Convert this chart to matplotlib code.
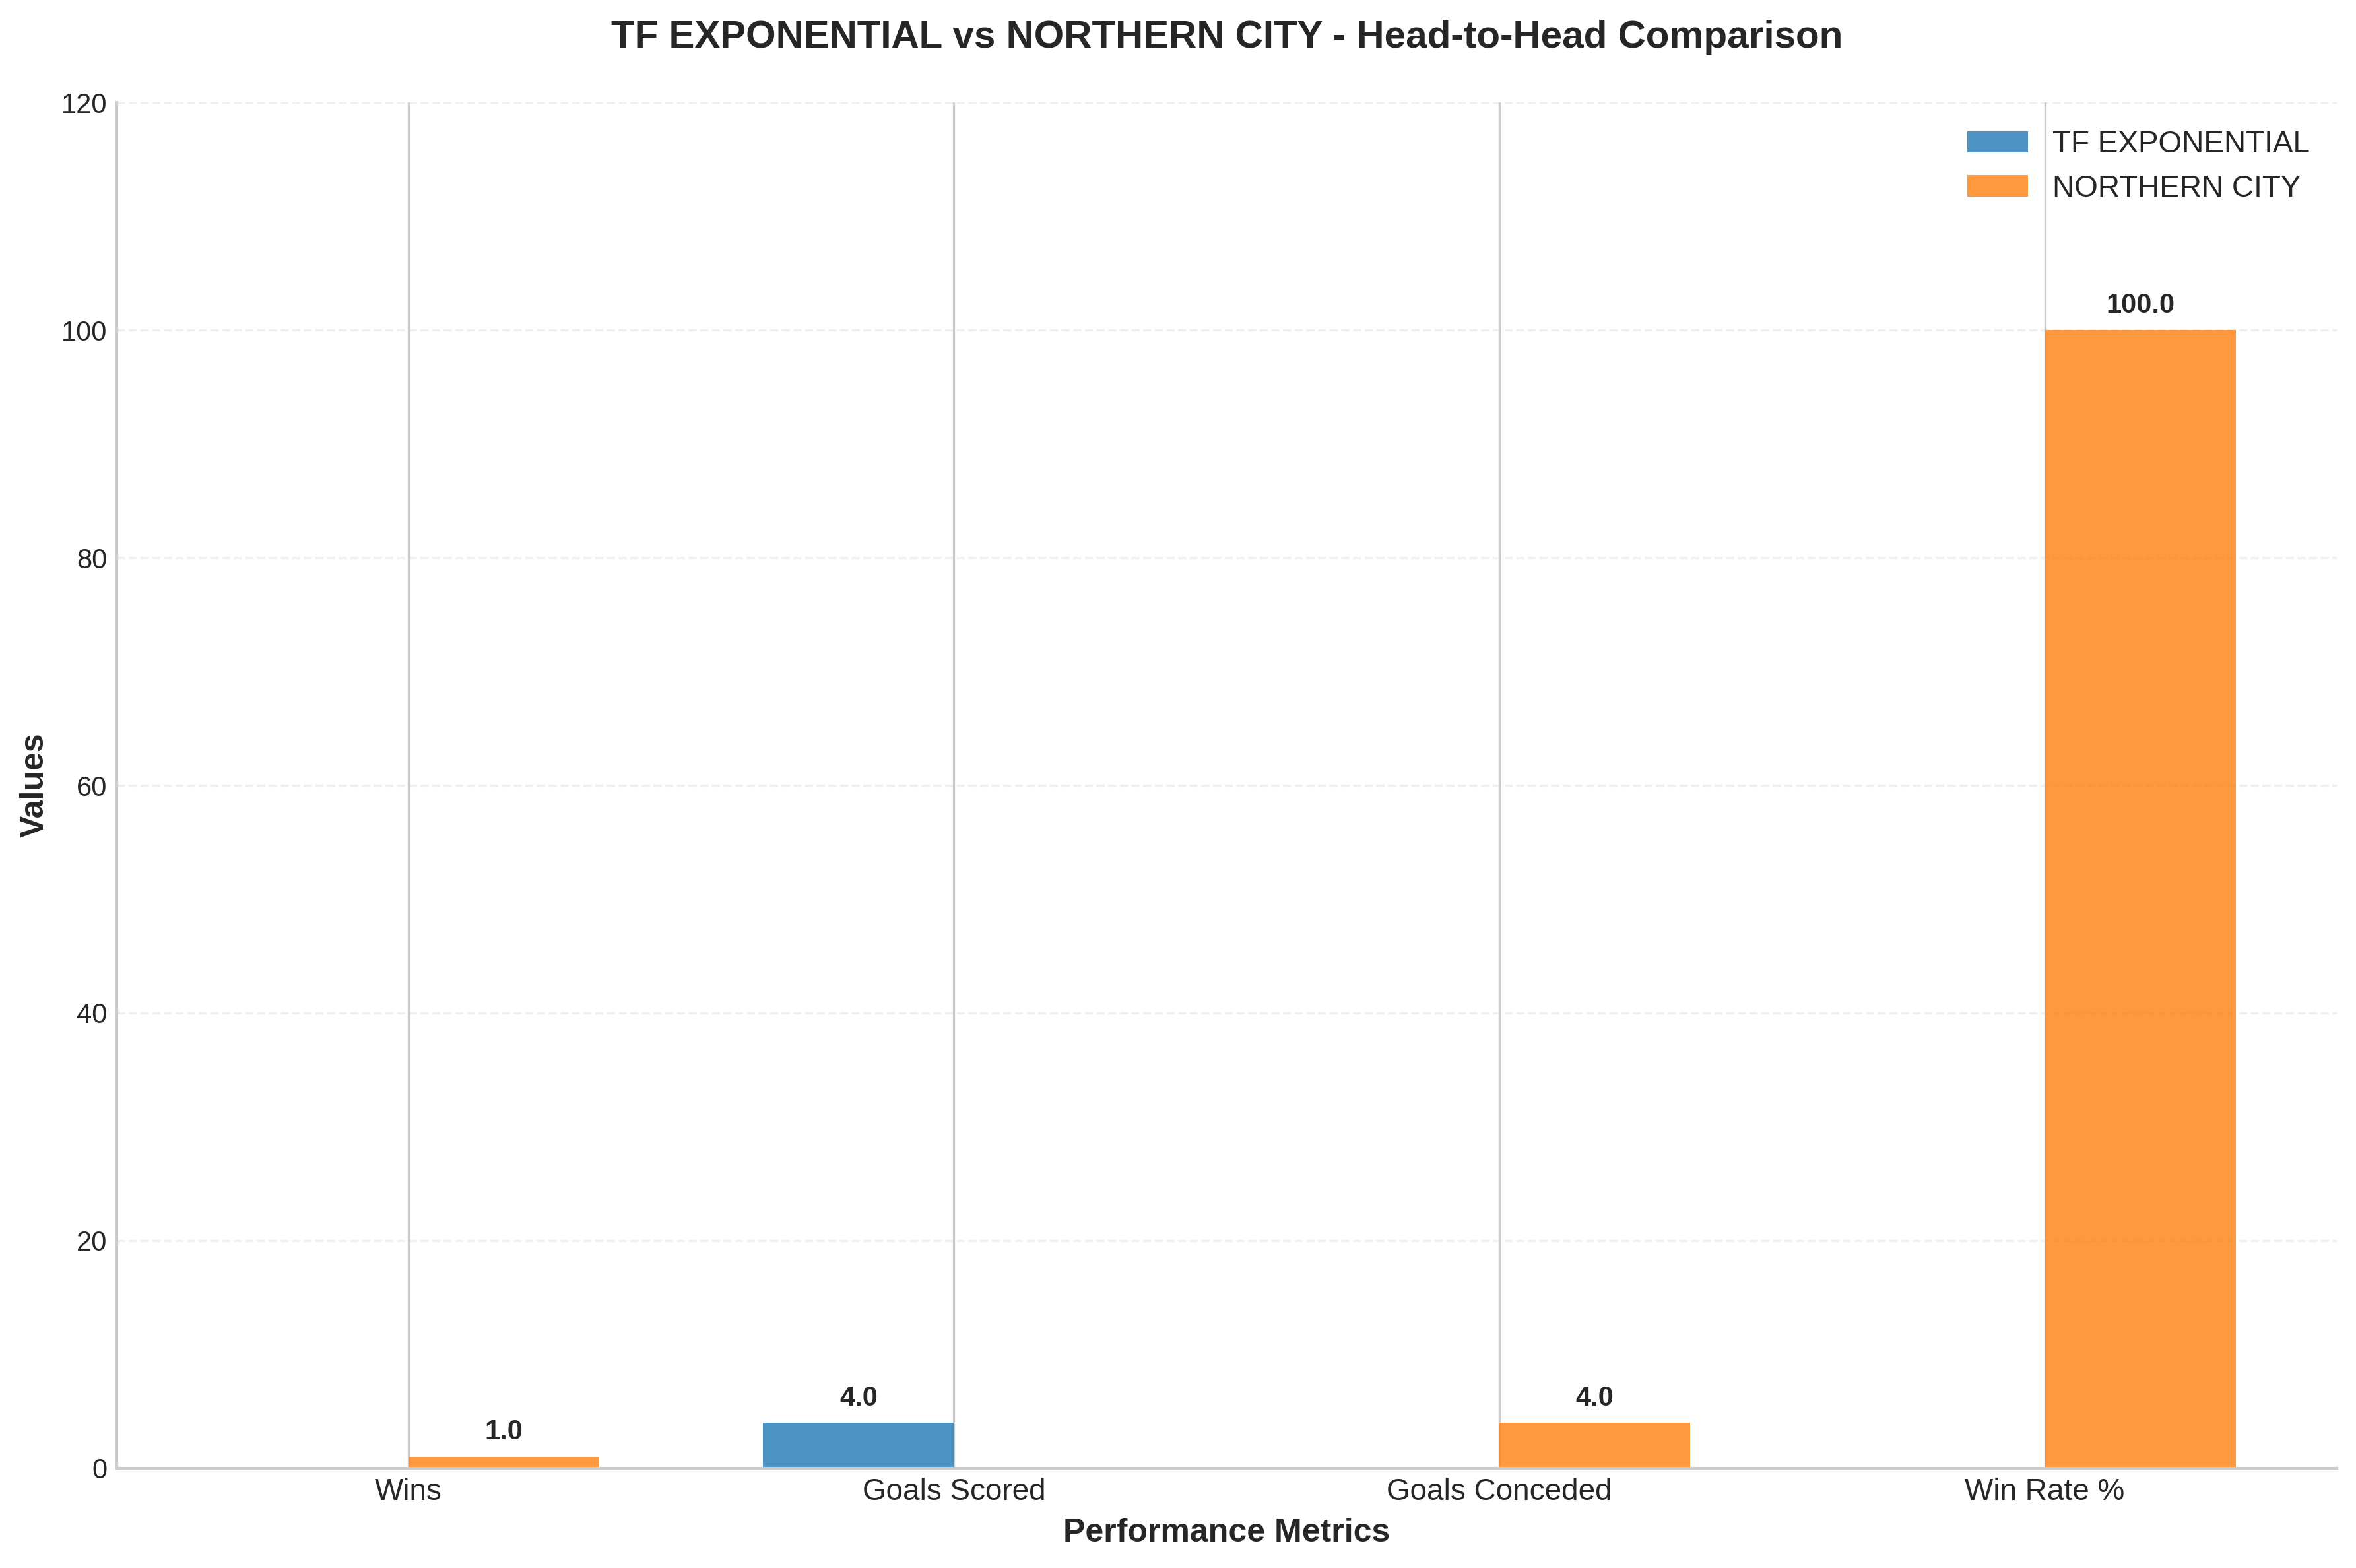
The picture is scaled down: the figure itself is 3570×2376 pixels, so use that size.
import numpy as np
import matplotlib
matplotlib.use("Agg")
import matplotlib.pyplot as plt

metrics = ["Wins", "Goals Scored", "Goals Conceded", "Win Rate %"]
team_a = "TF EXPONENTIAL"
team_b = "NORTHERN CITY"
team_a_vals = [0, 4, 0, 0]
team_b_vals = [1, 0, 4, 100]

plt.style.use("seaborn-v0_8-whitegrid")
plt.rcParams["font.family"] = ["Liberation Sans", "DejaVu Sans"]

fig, ax = plt.subplots(figsize=(12, 8))

x = np.arange(len(metrics))
width = 0.35

bars1 = ax.bar(x - width / 2, team_a_vals, width, label=team_a, color="#1f77b4", alpha=0.8)
bars2 = ax.bar(x + width / 2, team_b_vals, width, label=team_b, color="#ff7f0e", alpha=0.8)

for bars in (bars1, bars2):
    for b in bars:
        h = b.get_height()
        if h > 0:
            ax.text(b.get_x() + b.get_width() / 2, h + 1, f"{h:.1f}",
                    ha="center", va="bottom", fontsize=10, fontweight="bold")

ax.set_xlabel("Performance Metrics", fontsize=12, fontweight="bold")
ax.set_ylabel("Values", fontsize=12, fontweight="bold")
ax.set_title(f"{team_a} vs {team_b} - Head-to-Head Comparison",
             fontsize=14, fontweight="bold", pad=20)
ax.set_xticks(x)
ax.set_xticklabels(metrics, fontsize=11)
ax.set_ylim(0, 120)
ax.legend(fontsize=11)
ax.grid(axis="y", alpha=0.3, linestyle="--")
ax.spines["top"].set_visible(False)
ax.spines["right"].set_visible(False)

plt.tight_layout()
plt.savefig("out.png", dpi=300, bbox_inches="tight")
